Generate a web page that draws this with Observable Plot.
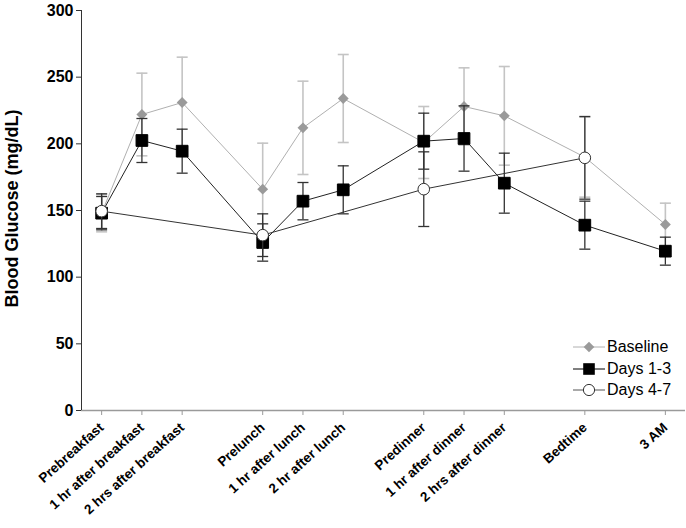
<!DOCTYPE html>
<html><head><meta charset="utf-8">
<script src="https://cdn.jsdelivr.net/npm/d3@7"></script>
<script src="https://cdn.jsdelivr.net/npm/@observablehq/plot@0.6"></script>
<style>
body{margin:0;background:#fff;font-family:"Liberation Sans",Arial,sans-serif;}
#wrap{position:relative;width:686px;height:528px;}
.legend{position:absolute;left:573px;top:336px;font-size:16px;color:#000;}
.legend div{display:flex;align-items:center;height:21.7px;}
.legend svg{margin-right:1px;}
</style></head><body><div id="wrap"></div>
<script>
const categories = ["Prebreakfast","1 hr after breakfast","2 hrs after breakfast","Prelunch","1 hr after lunch","2 hr after lunch","Predinner","1 hr after dinner","2 hrs after dinner","Bedtime","3 AM"];
const hours = [0,1,2,4,5,6,8,9,10,12,14];
const yTicks = [0,50,100,150,200,250,300];

const baselineMean = [148, 222, 231, 166, 212, 234, 201, 228, 221, 190, 139.5];
const baselineErr  = [14, 31, 34, 34.5, 35, 33, 27, 29, 37, 30, 16];

const days13Mean = [148, 202.5, 194.5, 126, 157, 165.5, 202, 204, 170.5, 139, 119.5];
const days13Err  = [12.5, 16.5, 16.5, 14, 14, 18, 21, 24.5, 22.5, 18, 10.5];

const days47Cats = ["Prebreakfast","Prelunch","Predinner","Bedtime"];
const days47Mean = [149.5, 131.5, 166, 189.5];
const days47Err  = [13, 16, 28, 31];

const rows = (cats, mean, err) => cats.map((c, i) => ({
  x: hours[categories.indexOf(c)], y: mean[i], lo: mean[i] - err[i], hi: mean[i] + err[i]
}));
const base = rows(categories, baselineMean, baselineErr);
const d13 = rows(categories, days13Mean, days13Err);
const d47 = rows(days47Cats, days47Mean, days47Err);

const cap = {draw(ctx, size){ const w = Math.sqrt(size / Math.PI); ctx.moveTo(-w, 0); ctx.lineTo(w, 0); }};

function seriesMarks(data, o) {
  return [
    Plot.ruleX(data, {x: "x", y1: "lo", y2: "hi", stroke: o.err, strokeWidth: o.errW}),
    Plot.dot(data, {x: "x", y: "hi", symbol: cap, r: 5.5, fill: "none", stroke: o.err, strokeWidth: o.errW}),
    Plot.dot(data, {x: "x", y: "lo", symbol: cap, r: 5.5, fill: "none", stroke: o.err, strokeWidth: o.errW}),
    Plot.line(data, {x: "x", y: "y", stroke: o.line, strokeWidth: 1}),
    Plot.dot(data, {x: "x", y: "y", symbol: o.symbol, r: o.r, fill: o.fill, stroke: o.stroke, strokeWidth: 1})
  ];
}

const chart = Plot.plot({
  width: 686, height: 528,
  marginLeft: 81, marginRight: 1, marginTop: 10, marginBottom: 118,
  style: {fontFamily: '"Liberation Sans", Arial, sans-serif', color: "#000", background: "#fff"},
  x: {domain: [-0.5, 14.5]},
  y: {domain: [0, 300]},
  marks: [
    Plot.ruleY([0], {stroke: "#9a9a9a", strokeWidth: 1.5}),
    Plot.ruleX([-0.5], {y1: 0, y2: 300, stroke: "#333", strokeWidth: 1}),
    Plot.axisY({ticks: yTicks, tickSize: 5, tickPadding: 3, label: null, stroke: "#333"}),
    Plot.axisX({ticks: hours, tickFormat: d => categories[hours.indexOf(d)], tickSize: 5, tickPadding: 10, tickRotate: -42, label: null, stroke: "#9a9a9a"}),
    Plot.text(["Blood Glucose (mg/dL)"], {frameAnchor: "left", textAnchor: "middle", rotate: -90, dx: -69, dy: -2, fontSize: 18, fontWeight: "bold"}),
    ...seriesMarks(base, {err: "#c4c4c4", errW: 1.6, line: "#b0b0b0", symbol: "diamond2", r: 4.9, fill: "#9a9a9a", stroke: "none"}),
    ...seriesMarks(d13, {err: "#333", errW: 1.3, line: "#222", symbol: "square", r: 6.6, fill: "#000", stroke: "#000"}),
    ...seriesMarks(d47, {err: "#333", errW: 1.3, line: "#333", symbol: "circle", r: 5.8, fill: "#fff", stroke: "#333"})
  ]
});
const wrap = document.getElementById("wrap");
wrap.appendChild(chart);

// style axis tick labels (bold, sized like the reference)
const yStr = yTicks.map(String);
d3.select(chart).selectAll("text").each(function() {
  const t = this.textContent.trim();
  if (categories.includes(t)) {
    this.style.fontSize = "13.5px"; this.style.fontWeight = "bold"; this.style.fill = "#000";
  } else if (yStr.includes(t)) {
    this.style.fontSize = "16px"; this.style.fontWeight = "bold"; this.style.fill = "#000";
  }
});

const legendItems = [
  {label: "Baseline", line: "#b0b0b0", shape: '<path d="M16,2.7L21.3,8L16,13.3L10.7,8Z" fill="#9a9a9a"/>'},
  {label: "Days 1-3", line: "#000", shape: '<rect x="10.2" y="2.2" width="11.6" height="11.6" fill="#000"/>'},
  {label: "Days 4-7", line: "#555", shape: '<circle cx="16" cy="8" r="5.6" fill="#fff" stroke="#333"/>'}
];
const legend = document.createElement("div");
legend.className = "legend";
legend.innerHTML = legendItems.map(d =>
  `<div><svg width="33" height="16"><line x1="0" x2="32" y1="8" y2="8" stroke="${d.line}" stroke-width="1"/>${d.shape}</svg><span>${d.label}</span></div>`
).join("");
wrap.appendChild(legend);
</script>
</body></html>
